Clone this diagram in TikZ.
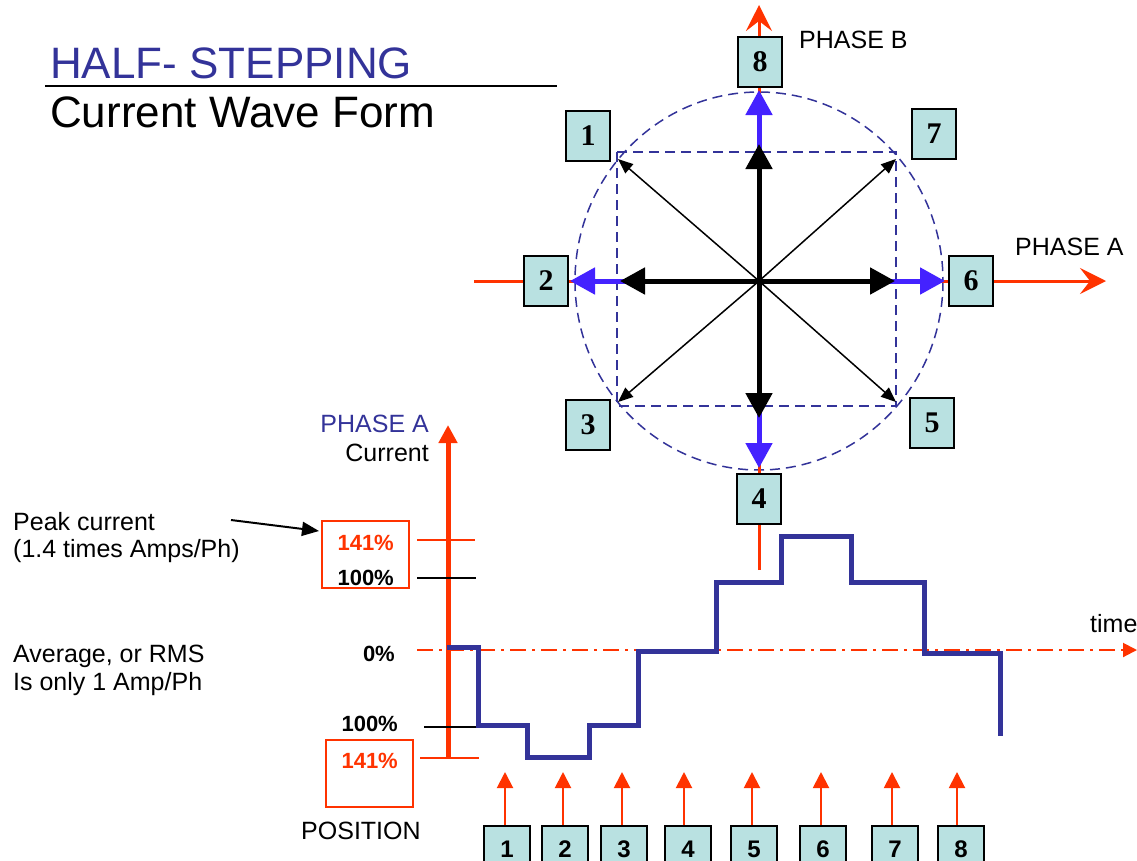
\documentclass[tikz,border=0pt]{standalone}
\usepackage{fontspec}
\setmainfont{Liberation Sans}
\newfontfamily\serifbf{Liberation Serif}
\usetikzlibrary{arrows.meta}
\definecolor{orng}{HTML}{FF3300}
\definecolor{wave}{HTML}{333399}
\definecolor{barrow}{HTML}{4422FF}
\definecolor{boxfill}{HTML}{B9E1E1}
\begin{document}
\begin{tikzpicture}[x=1pt,y=-1pt,
  lbl/.style={font=\fontsize{25}{30}\selectfont, inner sep=0pt},
  ttl/.style={font=\fontsize{44}{50}\selectfont, inner sep=0pt},
  pct/.style={font=\bfseries\fontsize{22}{26}\selectfont, inner sep=0pt},
  cbox/.style={draw=black, line width=2pt, fill=boxfill, minimum width=44pt, minimum height=50pt, inner sep=0pt, font=\serifbf\bfseries\fontsize{30}{30}\selectfont},
  pbox/.style={draw=black, line width=2pt, fill=boxfill, minimum width=46pt, minimum height=44pt, inner sep=0pt, anchor=north},
  pdig/.style={font=\bfseries\fontsize{24}{24}\selectfont, inner sep=0pt, anchor=base},
  obox/.style={draw=orng, line width=2pt, inner sep=0pt},
  oline/.style={draw=orng, line width=3pt},
  oarrow/.style={draw=orng, line width=3pt, -{Stealth[length=26pt, width=26pt, inset=10pt]}},
  barr/.style={draw=barrow, line width=5pt, -{Triangle[length=25pt, width=26pt]}},
  karr/.style={draw=black, line width=5pt, -{Triangle[length=25pt, width=26pt]}},
  darr/.style={draw=black, line width=1.5pt, -{Triangle[length=15pt, width=12pt]}},
  guide/.style={draw=wave, line width=1.5pt, dash pattern=on 10pt off 6pt},
  posarr/.style={draw=orng, line width=2pt, -{Triangle[length=16pt, width=16pt]}},
  tick/.style={line width=2pt}
]
\useasboundingbox (0,0) rectangle (1137,860);
\clip (0,0) rectangle (1137,860);

% ---------- title ----------
\node[ttl, text=wave, anchor=base west] (t1) at (50,78) {HALF- STEPPING};
\node[ttl, anchor=base west] (t2) at (50,127) {Current Wave Form};
\coordinate (ulA) at (45,86);
\coordinate (ulB) at (557,86);
\draw[line width=2pt] (ulA) -- (ulB);

% ---------- compass ----------
\coordinate (O) at (759,281);
\draw[guide] (O) ellipse [x radius=184, y radius=189];
\draw[guide] (617,152) rectangle (896,406);

\coordinate (hL) at (474,281);
\coordinate (hR) at (1106,281);
\coordinate (vT) at (759,5);
\coordinate (vB) at (759,570);
\draw[oarrow] (hL) -- (hR);
\draw[oline] (vB) -- (759,40);
\draw[oarrow] (759,40) -- (vT);

\coordinate (bU) at (759,90);
\coordinate (bD) at (759,468);
\coordinate (bL) at (570,281);
\coordinate (bR) at (945,281);
\draw[barr] (O) -- (bU);
\draw[barr] (O) -- (bD);
\draw[barr] (O) -- (bL);
\draw[barr] (O) -- (bR);

\coordinate (kU) at (759,144);
\coordinate (kD) at (759,418);
\coordinate (kL) at (620,281);
\coordinate (kR) at (895,281);
\draw[karr] (O) -- (kU);
\draw[karr] (O) -- (kD);
\draw[karr] (O) -- (kL);
\draw[karr] (O) -- (kR);

\coordinate (dUL) at (618,159);
\coordinate (dUR) at (896,159);
\coordinate (dDL) at (618,402);
\coordinate (dDR) at (896,402);
\draw[darr] (O) -- (dUL);
\draw[darr] (O) -- (dUR);
\draw[darr] (O) -- (dDL);
\draw[darr] (O) -- (dDR);

\node[cbox] (c8) at (760,62) {8};
\node[cbox] (c1) at (588,136) {1};
\node[cbox] (c7) at (934,134) {7};
\node[cbox] (c2) at (546,281) {2};
\node[cbox] (c6) at (971,281) {6};
\node[cbox] (c3) at (588,425) {3};
\node[cbox] (c5) at (932,423) {5};
\node[cbox] (c4) at (759,499) {4};

\node[lbl, anchor=base west] (phB) at (799,48) {PHASE B};
\node[lbl, anchor=base west] (phA) at (1015,255) {PHASE A};

% ---------- current chart ----------
\coordinate (axB) at (448,758);
\coordinate (axT) at (448,425);
\draw[draw=orng, line width=5pt, -{Triangle[length=18pt, width=18pt]}] (axB) -- (axT);

\node[lbl, text=wave, anchor=base east] (pa) at (429,432) {PHASE A};
\node[lbl, anchor=base east] (cur) at (429,461) {Current};

\draw[orng, tick] (417,540) -- (475,540);
\draw[black, tick] (417,578) -- (476,578);
\draw[black, tick] (424,727) -- (478,727);
\draw[orng, tick] (420,758) -- (479,758);

\coordinate (tL) at (417,650);
\coordinate (tR) at (1137,650);
\draw[draw=orng, line width=2pt, dash pattern=on 16pt off 6pt on 3pt off 6pt, -{Triangle[length=14pt, width=14pt]}] (tL) -- (tR);
\node[lbl, anchor=base west] (time) at (1090,632) {time};

\node[obox, minimum width=87pt, minimum height=67pt] (ob1) at (365.5,554.5) {};
\node[obox, minimum width=87pt, minimum height=67pt] (ob2) at (369.5,773.5) {};
\node[pct, text=orng, anchor=base east] (v141a) at (394,550) {141\%};
\node[pct, anchor=base east] (v100a) at (394,585) {100\%};
\node[pct, anchor=base east] (v0) at (395,661) {0\%};
\node[pct, anchor=base east] (v100b) at (398,731) {100\%};
\node[pct, text=orng, anchor=base east] (v141b) at (398,768) {141\%};

\node[lbl, anchor=base west] (pk1) at (13,530) {Peak current};
\node[lbl, anchor=base west] (pk2) at (13,557) {(1.4 times Amps/Ph)};
\coordinate (pkA) at (231,520);
\coordinate (pkB) at (319,531);
\draw[line width=2pt, -{Triangle[length=17pt, width=14pt]}] (pkA) -- (pkB);

\node[lbl, anchor=base west] (av1) at (13,662) {Average, or RMS};
\node[lbl, anchor=base west] (av2) at (13,690) {Is only 1 Amp/Ph};
\node[lbl, anchor=base west] (pos) at (301,839) {POSITION};

\draw[wave, line width=5pt, line join=miter]
  (447,647) -- (478,647) -- (478,725) -- (527,725) -- (527,757) -- (589,757)
  -- (589,725) -- (638,725) -- (638,651) -- (716,651) -- (716,582) -- (781,582)
  -- (781,536) -- (851,536) -- (851,582) -- (924,582) -- (924,653) -- (1000,653)
  -- (1000,736);

% ---------- position boxes ----------
\foreach \n/\x/\ax in {1/507/505, 2/565/563, 3/624/622, 4/688/684, 5/754/752, 6/823/821, 7/895/892, 8/961/957}{
  \node[pbox] (p\n) at (\x,825) {};
  \path (p\n.north) ++(0,32) node[pdig] (pd\n) {\n};
  \coordinate (pt\n) at (\ax,772);
  \draw[posarr] (\ax,825) -- (pt\n);
}
\end{tikzpicture}
\end{document}
